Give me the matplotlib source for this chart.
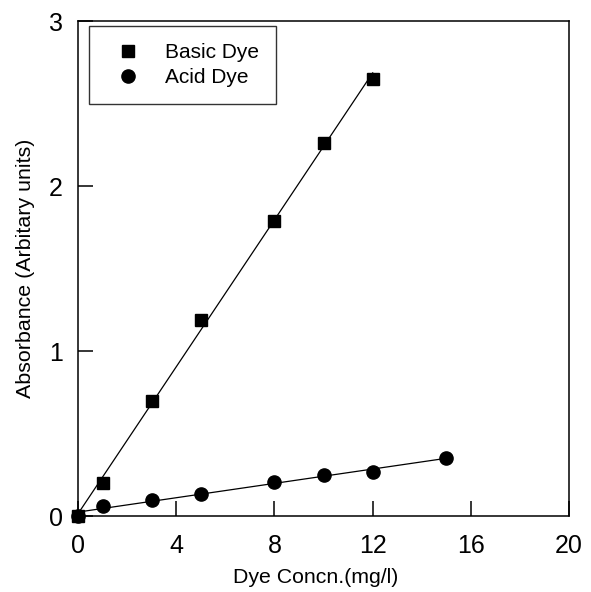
import numpy as np
import matplotlib
matplotlib.use("Agg")
import matplotlib.pyplot as plt

# data
conc_basic = [0, 1, 3, 5, 8, 10, 12]
abs_basic = [0.0, 0.20, 0.70, 1.19, 1.79, 2.26, 2.65]
conc_acid = [0, 1, 3, 5, 8, 10, 12, 15]
abs_acid = [0.0, 0.06, 0.10, 0.135, 0.21, 0.25, 0.27, 0.35]

x_ticks = [0, 4, 8, 12, 16, 20]
y_ticks = [0, 1, 2, 3]

plt.rcParams['font.family'] = ['Liberation Sans', 'DejaVu Sans']

fig = plt.figure(figsize=(5.91, 5.92), dpi=100)
ax = fig.add_axes([0.132, 0.128, 0.831, 0.836])

# linear fits drawn over the measured range
for xs, ys in [(conc_basic, abs_basic), (conc_acid, abs_acid)]:
    k, b = np.polyfit(xs, ys, 1)
    xx = np.array([min(xs), max(xs)])
    ax.plot(xx, k * xx + b, color="black", linewidth=0.9, zorder=2)

ax.plot(conc_basic, abs_basic, linestyle="none", marker="s", markersize=8.5,
        color="black", label="Basic Dye", zorder=3, clip_on=False)
ax.plot(conc_acid, abs_acid, linestyle="none", marker="o", markersize=9.5,
        color="black", label="Acid Dye", zorder=3, clip_on=False)

# axes setup
ax.set_xlim(0, 20)
ax.set_ylim(0, 3)
ax.set_xticks(x_ticks)
ax.set_yticks(y_ticks)
ax.tick_params(direction="in", length=11, width=1.1, labelsize=18)
ax.tick_params(axis="x", pad=13)
ax.tick_params(axis="y", pad=11)
for s in ax.spines.values():
    s.set_linewidth(1.1)

ax.set_xlabel("Dye Concn.(mg/l)", fontsize=15.3, labelpad=7)
ax.xaxis.label.set_x(0.484)
ax.set_ylabel("Absorbance (Arbitary units)", fontsize=15.4, labelpad=10)

leg = ax.legend(loc="upper left", bbox_to_anchor=(0.0224, 0.99), fontsize=15,
                frameon=True, fancybox=False, edgecolor="black", numpoints=1,
                handlelength=2.15, handletextpad=0.72, borderpad=0.8,
                labelspacing=0.3, borderaxespad=0)
leg.get_frame().set_linewidth(1.0)

fig.savefig("out.png", dpi=100)
